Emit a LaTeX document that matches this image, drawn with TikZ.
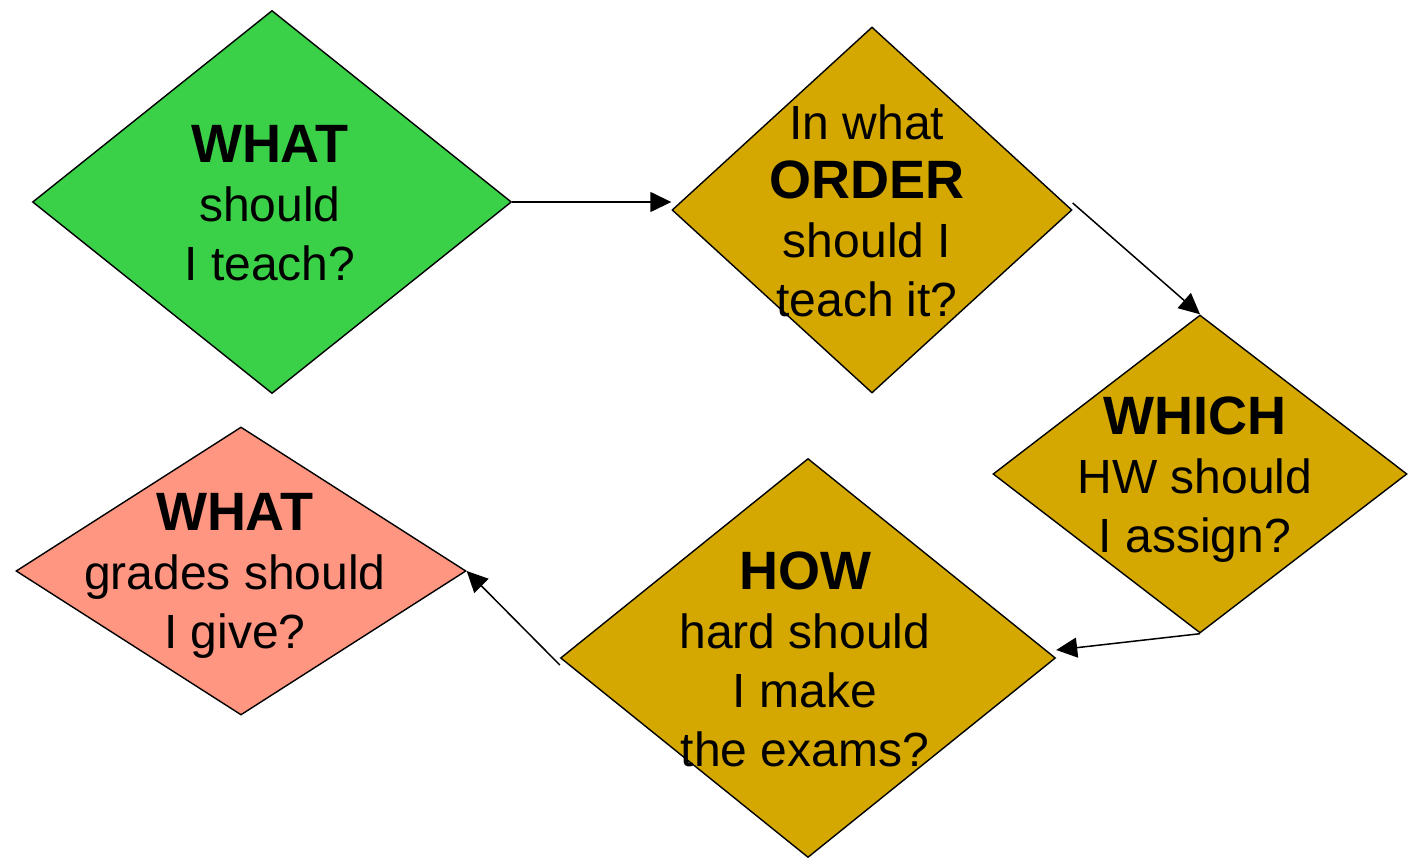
\documentclass[tikz,border=0pt]{standalone}
\usepackage{fontspec}
\setmainfont{Liberation Sans}
\usetikzlibrary{shapes.geometric}
\usetikzlibrary{arrows.meta}

\definecolor{askgreen}{RGB}{58,209,72}
\definecolor{askgold}{RGB}{212,168,0}
\definecolor{asksalmon}{RGB}{255,150,130}
\newcommand\askkey[1]{{\fontsize{54}{59}\selectfont\bfseries #1}}

\begin{document}
\begin{tikzpicture}[x=1pt,y=-1pt,
  ask/.style={diamond,draw,line width=1.4pt,inner sep=0pt},
  words/.style={align=center,inner sep=0pt,font=\fontsize{48}{59}\selectfont},
  flow/.style={line width=1.5pt,-{Triangle[length=21pt,width=20pt]}}]
\useasboundingbox (0,0) rectangle (1408,858);
% the five questions
\node[ask,fill=askgreen,minimum width=479pt,minimum height=383pt] (what) at (272,202) {};
\node[ask,fill=askgold,minimum width=400pt,minimum height=366pt] (order) at (872,210) {};
\node[ask,fill=askgold,minimum width=414pt,minimum height=318pt] (which) at (1200,474) {};
\node[ask,fill=askgold,minimum width=495pt,minimum height=399pt] (how) at (808,658) {};
\node[ask,fill=asksalmon,minimum width=450pt,minimum height=288pt] (grades) at (241,571) {};
\node[words] (what-t) at (270,203) {\askkey{WHAT}\\should\\I teach?};
\node[words] (order-t) at (867,211) {In what\\\askkey{ORDER}\\should I\\teach it?};
\node[words] (which-t) at (1195,480) {\askkey{WHICH}\\HW should\\I assign?};
\node[words] (how-t) at (805,659) {\askkey{HOW}\\hard should\\I make\\the exams?};
\node[words] (grades-t) at (235,576) {\askkey{WHAT}\\grades should\\I give?};
% arrows
\draw[flow] (what.east) -- (what.east -| order.west);
\draw[flow] ([yshift=7pt]order.east) -- (which.north);
\draw[flow] (which.south) -- ([yshift=8pt]how.east);
\draw[flow] ([yshift=-7pt]how.west) -- (grades.east);
\end{tikzpicture}
\end{document}
